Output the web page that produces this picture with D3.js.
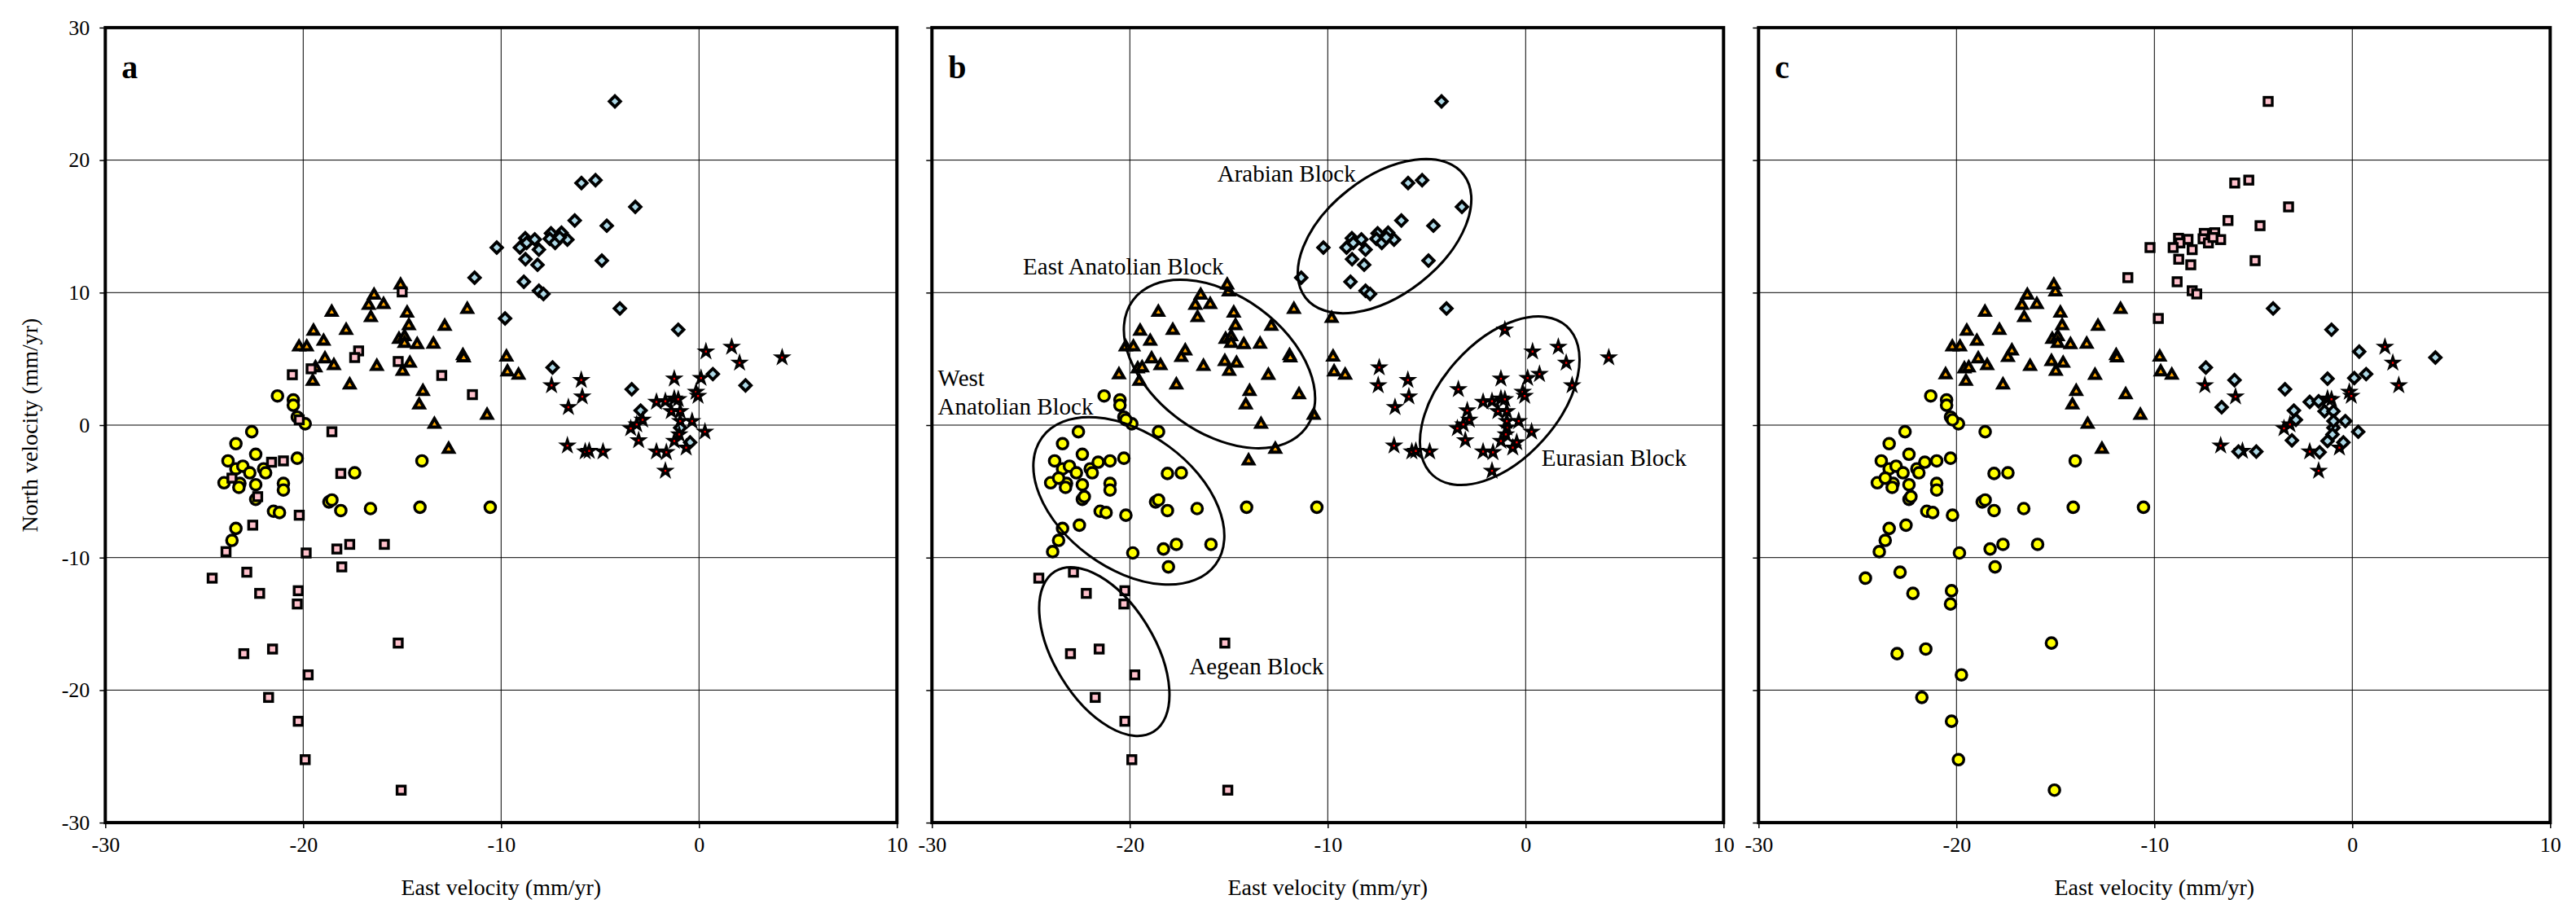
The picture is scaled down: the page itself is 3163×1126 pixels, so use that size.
<!DOCTYPE html>
<html><head><meta charset="utf-8">
<script src="https://cdn.jsdelivr.net/npm/d3@7"></script>
<style>html,body{margin:0;padding:0;background:#fff;}svg{display:block;}</style>
</head><body>
<svg id="chart" width="3163" height="1126"></svg>
<script>
// ---------- DATA ----------
// East / North velocity (mm/yr) of each GPS site
const east = [
 -21.3,-20.5,-20.5,-20.3,-19.9,-22.6,-23.4,-22.4,-23.8,-23.4,-23.05,-22.7,-22.0,-21.9,-24.0,-23.2,-23.25,-22.4,-21.0,-21.0,
 -20.3,-22.4,-21.5,-21.2,-23.4,-23.6,-17.4,-18.7,-18.55,-18.1,-16.6,-14.0,-14.1,-10.55,
 -20.2,-18.55,-21.6,-21.0,-18.1,-23.6,-22.3,-20.2,-22.55,-23.9,-19.85,-18.3,-17.65,-18.05,-15.9,
 -24.6,-22.85,-22.2,-20.25,-20.3,-15.2,-21.55,-23.0,-19.75,-21.75,-20.25,-19.9,-15.05,
 -20.55,-19.6,-15.0,-17.2,-17.4,-15.2,-13.0,-11.45,
 -15.08,-16.42,-15.94,-16.69,-18.56,-16.58,-14.75,-11.71,-19.48,-17.83,-14.66,-12.85,-18.97,-20.21,-19.82,-15.16,-14.88,-14.88,-14.24,-13.42,
 -11.93,-11.89,-18.9,-18.45,-19.38,-16.28,-14.61,-14.98,-19.52,-17.65,-13.95,-14.14,-10.71,-13.37,-12.65,-9.73,-9.68,-9.12,
 -4.25,-5.94,-5.23,-3.22,-6.28,-4.66,-7.48,-6.95,-7.54,-7.27,-6.65,-7.04,-8.78,-8.3,-8.71,-9.05,-8.09,-10.22,-8.77,-8.16,
 -4.91,-11.34,-8.85,-8.09,-7.86,
 -9.8,-4.0,
 -1.05,-7.4,-3.4,0.7,2.35,-2.95,-0.95,-0.45,
 -7.45,-5.95,-5.9,-6.6,0.35,1.65,2.05,4.2,-1.25,0.1,-0.15,-0.05,-2.15,-1.7,-1.25,-1.05,-1.4,-0.95,-2.85,-0.95,
 -0.35,-3.45,-3.15,-1.0,-1.25,-0.65,0.3,-3.05,-2.15,-1.65,-1.7,-6.65,-5.75,-5.55,-4.85
];
const north = [
 2.2,1.9,1.5,0.6,0.1,-0.5,-1.4,-2.2,-2.7,-3.3,-3.1,-3.6,-3.3,-3.6,-4.35,-4.4,-4.7,-4.5,-4.4,-4.9,
 -2.5,-5.6,-6.5,-6.6,-7.8,-8.7,-3.6,-5.8,-5.65,-6.45,-6.3,-2.7,-6.2,-6.2,
 0.4,-0.5,-2.8,-2.7,-3.65,-4.0,-5.4,-6.8,-7.55,-9.55,-9.65,-9.35,-9.0,-10.7,-9.0,
 -11.55,-11.1,-12.7,-12.5,-13.5,-16.45,-16.9,-17.25,-18.85,-20.55,-22.35,-25.25,-27.55,
 3.8,4.25,10.05,5.6,5.1,4.8,3.75,2.3,
 10.57,9.8,9.1,9.04,8.52,8.11,8.46,8.73,7.09,7.15,7.5,7.46,6.33,5.9,5.9,6.48,6.68,6.17,6.07,6.11,
 5.25,5.08,5.0,4.49,4.32,4.43,4.67,4.06,3.3,3.03,2.54,1.52,0.74,0.06,-1.82,5.14,4.02,3.77,
 24.43,18.27,18.49,16.47,15.44,15.05,14.47,14.52,14.06,13.75,14.0,14.16,14.1,14.02,13.75,13.4,13.24,13.4,12.52,12.1,
 12.41,11.13,10.82,10.14,9.9,
 8.05,8.8,
 7.2,4.35,2.7,3.85,3.0,1.1,-0.2,-1.3,
 3.0,3.4,2.15,1.35,5.55,5.9,4.7,5.1,3.5,3.55,2.5,2.2,1.75,1.8,2.0,1.95,1.05,1.05,0.4,0.3,
 0.3,-0.25,0.05,-0.7,-1.2,-1.7,-0.5,-1.15,-2.0,-2.05,-3.45,-1.55,-2.0,-1.95,-2.0
];
// Block codes: W = West Anatolian, G = Aegean, E = East Anatolian, R = Arabian, U = Eurasian
const blockA = (
 "WWWWWWWWWWWWWWWWWWWW" + "WWWWWWWWWWWWWW" +
 "GGGGGGGGGGGGGGG" + "GGGGGGGGGGGGG" + "GGGGGGGG" +
 "EEEEEEEEEEEEEEEEEEEE" + "EEEEEEEEEEEEEEEEEE" +
 "RRRRRRRRRRRRRRRRRRRR" + "RRRRR" + "RR" + "RRRRRRRR" +
 "UUUUUUUUUUUUUUUUUUUU" + "UUUUUUUUUUUUUUU").split("");
const blockB = (
 "WWWWWWWWWWWWWWWWWWWW" + "WWWWWWWWWWWEWW" +
 "WWWWWWWWWWWWWWW" + "GGGGGGGGGGGGG" + "EEEEEEEE" +
 "EEEEEEEEEEEEEEEEEEEE" + "EEEEEEEEEEEEEEEEEE" +
 "RRRRRRRRRRRRRRRRRRRR" + "RRRRR" + "ER" + "UUUUUUUU" +
 "UUUUUUUUUUUUUUUUUUUU" + "UUUUUUUUUUUUUUU").split("");
const blockC = (
 "WWWWWWWWWWWWWWWWWWWW" + "WWWWWWWWWWWWWW" +
 "WWWWWWWWWWWWWWW" + "WWWWWWWWWWWWW" + "EEEEEEEE" +
 "EEEEEEEEEEEEEEEEEEEE" + "EEEEEEEEEEEEEEEEEE" +
 "GGGGGGGGGGGGGGGGGGGG" + "GGGGG" + "GR" + "RRRRURRR" +
 "URURRUURRRUURRUURRRR" + "RUURRURRURUURUR").split("");
const panelLetters = ["a", "b", "c"];
const xTicks = [-30, -20, -10, 0, 10];
const yTicks = [-30, -20, -10, 0, 10, 20, 30];
const xTitle = "East velocity (mm/yr)";
const yTitle = "North velocity (mm/yr)";
// Ellipses of panel b: centre (data units)
const ellNames = ["Arabian", "East Anatolian", "West Anatolian", "Aegean", "Eurasian"];
const ellCx = [-7.13, -15.47, -20.05, -21.29, -1.31];
const ellCy = [14.26, 4.61, -5.72, -17.09, 1.84];
// Block labels of panel b (data units of the label anchor)
const labelText = ["Arabian Block", "East Anatolian Block", "West", "Anatolian Block", "Aegean Block", "Eurasian Block"];
const labelX = [-15.58, -25.4, -29.7, -29.7, -17.0, 0.8];
const labelY = [18.37, 11.4, 2.98, 0.82, -18.8, -3.05];

// ---------- DRAWING ----------
const svg = d3.select("#chart");
const FONT = "'Liberation Serif','Times New Roman',serif";
const panelW = 972, panelTop = 33.9, panelBot = 1010.1;
const panelX0 = [129.3, 1144.3, 2159.3];
const blocksPerPanel = [blockA, blockB, blockC];
const drawOrder = [["W","E","G","R","U"], ["W","E","G","R","U"], ["W","E","G","U","R"]];

const style = {
  W: {sym: "circle", fill: "#ffff00"},
  G: {sym: "square", fill: "#ffc0cb"},
  E: {sym: "triangle", fill: "#ffa500"},
  R: {sym: "diamond", fill: "#add8e6"},
  U: {sym: "star", fill: "#000"}
};
const triPath = d3.symbol(d3.symbolTriangle, 66)();
const diaPath = d3.symbol(d3.symbolSquare, 92)();
const starPath = d3.symbol(d3.symbolStar, 105)();

panelX0.forEach((x0, p) => {
  const x = d3.scaleLinear().domain([-30, 10]).range([x0, x0 + panelW]);
  const y = d3.scaleLinear().domain([-30, 30]).range([panelBot, panelTop]);
  const g = svg.append("g");

  // gridlines
  g.selectAll(".gx").data(xTicks.slice(1, -1)).join("line")
    .attr("x1", d => x(d)).attr("x2", d => x(d)).attr("y1", panelTop).attr("y2", panelBot)
    .attr("stroke", "#000").attr("stroke-width", 1);
  g.selectAll(".gy").data(yTicks.slice(1, -1)).join("line")
    .attr("y1", d => y(d)).attr("y2", d => y(d)).attr("x1", x0).attr("x2", x0 + panelW)
    .attr("stroke", "#000").attr("stroke-width", 1);

  // bottom axis
  const xa = g.append("g").attr("transform", `translate(0,${panelBot})`)
    .call(d3.axisBottom(x).tickValues(xTicks).tickSize(7).tickPadding(10).tickFormat(d3.format("d")));
  xa.select(".domain").remove();
  xa.selectAll("line").attr("stroke-width", 1.5);
  xa.selectAll("text").attr("font-family", FONT).attr("font-size", 26).attr("fill", "#000")
    .text(d => String(d));
  g.append("text").attr("x", x(-10)).attr("y", 1099).attr("text-anchor", "middle")
    .attr("font-family", FONT).attr("font-size", 28).text(xTitle);

  // left axis
  const ya = g.append("g").attr("transform", `translate(${x0},0)`)
    .call(d3.axisLeft(y).tickValues(yTicks).tickSize(7).tickPadding(12).tickFormat(p === 0 ? (d => String(d)) : () => ""));
  ya.select(".domain").remove();
  ya.selectAll("line").attr("stroke-width", 1.5);
  ya.selectAll("text").attr("font-family", FONT).attr("font-size", 26).attr("fill", "#000");
  if (p === 0) {
    g.append("text").attr("transform", `translate(46,${y(0)}) rotate(-90)`).attr("text-anchor", "middle")
      .attr("font-family", FONT).attr("font-size", 28).text(yTitle);
  }

  // markers
  const blocks = blocksPerPanel[p];
  const idx = d3.range(east.length);
  drawOrder[p].forEach(code => {
    const pts = idx.filter(i => blocks[i] === code);
    const st = style[code];
    const sel = g.append("g").selectAll("g").data(pts).join("g")
      .attr("transform", i => `translate(${x(east[i])},${y(north[i])})`);
    if (st.sym === "circle") {
      sel.append("circle").attr("r", 6.6).attr("fill", st.fill).attr("stroke", "#000").attr("stroke-width", 3.4);
    } else if (st.sym === "square") {
      sel.append("rect").attr("x", -5).attr("y", -5).attr("width", 10).attr("height", 10)
        .attr("fill", st.fill).attr("stroke", "#000").attr("stroke-width", 3.4);
    } else if (st.sym === "triangle") {
      sel.append("path").attr("d", triPath).attr("fill", st.fill).attr("stroke", "#000")
        .attr("stroke-width", 4).attr("stroke-linejoin", "miter");
    } else if (st.sym === "diamond") {
      sel.append("path").attr("d", diaPath).attr("transform", "rotate(45)").attr("fill", st.fill)
        .attr("stroke", "#000").attr("stroke-width", 3.8).attr("stroke-linejoin", "miter");
    } else {
      sel.append("path").attr("d", starPath).attr("fill", "#000").attr("stroke", "#000").attr("stroke-width", 1.5);
      sel.append("rect").attr("x", -1.2).attr("y", -1.2).attr("width", 2.4).attr("height", 2.4).attr("fill", "#ff0000");
    }
  });

  // panel b ellipses & labels
  if (p === 1) {
    const ellA = [123, 132, 132, 115.5, 123];
    const ellB = [72, 84, 83, 61.6, 72];
    const ellT = [-38, 36.3, 36.2, 58.5, -48.2];
    g.append("g").selectAll("ellipse").data(ellNames).join("ellipse")
      .attr("transform", (d, i) => `translate(${x(ellCx[i])},${y(ellCy[i])}) rotate(${ellT[i]})`)
      .attr("rx", (d, i) => ellA[i]).attr("ry", (d, i) => ellB[i])
      .attr("fill", "none").attr("stroke", "#000").attr("stroke-width", 3);
    g.append("g").selectAll("text").data(labelText).join("text")
      .attr("x", (d, i) => x(labelX[i])).attr("y", (d, i) => y(labelY[i]))
      .attr("font-family", FONT).attr("font-size", 29).text(d => d);
  }

  // frame
  g.append("rect").attr("x", x0).attr("y", panelTop).attr("width", panelW).attr("height", panelBot - panelTop)
    .attr("fill", "none").attr("stroke", "#000").attr("stroke-width", 4);

  // panel letter
  g.append("text").attr("x", x0 + 20).attr("y", 96).attr("font-family", FONT)
    .attr("font-weight", "bold").attr("font-size", 40).text(panelLetters[p]);
});
</script>
</body></html>
